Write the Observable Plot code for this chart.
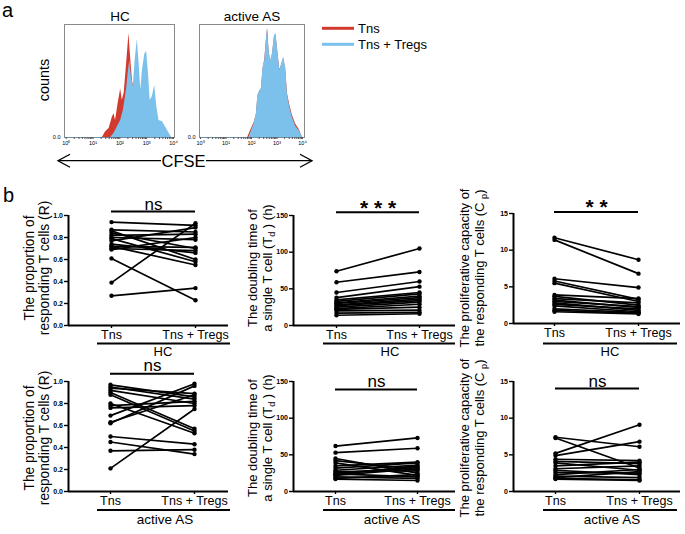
<!DOCTYPE html>
<html><head><meta charset="utf-8">
<script src="https://cdn.jsdelivr.net/npm/d3@7"></script>
<script src="https://cdn.jsdelivr.net/npm/@observablehq/plot@0.6"></script>
<style>
body{margin:0;background:#fff;}
#fig{position:relative;width:685px;height:534px;overflow:hidden;background:#fff;}
</style></head><body><div id="fig"></div>
<script>
// ---------------- data ----------------
const categories = ["Tns", "Tns + Tregs"];
const legendLabels = ["Tns", "Tns  + Tregs"];
const groups = ["HC", "active AS"];
const cfseMajor = [1, 10, 100, 1000, 10000];
const cfseMajorLabels = ["10⁰", "10¹", "10²", "10³", "10⁴"];

// histogram (log10 CFSE, relative counts)
const hcTnsLog    = [1.35,1.47,1.60,1.72,1.78,1.84,1.93,2.03,2.09,2.16,2.22,2.28,2.34,2.40,2.47,2.60,2.90,3.30,3.70];
const hcTnsCount  = [0,0.05,0.08,0.18,0.21,0.15,0.29,0.43,0.33,0.39,0.56,0.74,0.92,0.71,0.50,0.35,0.20,0.08,0];
const hcTregLog   = [1.66,1.78,1.90,2.03,2.13,2.19,2.26,2.32,2.37,2.43,2.50,2.57,2.65,2.72,2.78,2.84,2.93,3.00,3.07,3.13,3.21,3.30,3.38,3.46,3.59,3.71,3.84,3.93];
const hcTregCount = [0,0.035,0.09,0.15,0.24,0.33,0.45,0.59,0.68,0.54,0.45,0.68,0.87,0.65,0.42,0.59,0.74,0.76,0.56,0.33,0.36,0.46,0.27,0.15,0.14,0.09,0.035,0];
const asTnsLog    = [1.85,2.00,2.10,2.19,2.25,2.32,2.39,2.45,2.52,2.58,2.63,2.69,2.75,2.82,2.90,2.96,3.03,3.11,3.18,3.26,3.34,3.41,3.50,3.60,3.73,3.87,4.00];
const asTnsCount  = [0,0.08,0.13,0.20,0.36,0.41,0.43,0.60,0.69,0.85,0.97,0.76,0.67,0.73,0.89,0.91,0.76,0.60,0.64,0.70,0.61,0.39,0.29,0.20,0.12,0.07,0];
const asTregLog   = [1.90,2.00,2.10,2.19,2.25,2.32,2.39,2.45,2.52,2.58,2.63,2.69,2.75,2.82,2.90,2.96,3.03,3.11,3.18,3.26,3.34,3.41,3.50,3.60,3.73,3.87,4.00];
const asTregCount = [0,0.06,0.12,0.21,0.38,0.40,0.44,0.62,0.68,0.86,0.96,0.77,0.68,0.74,0.90,0.92,0.77,0.59,0.65,0.71,0.62,0.38,0.27,0.18,0.10,0.06,0];

// paired values: Tns vs Tns + Tregs
const rHcTns    = [0.94,0.87,0.86,0.84,0.82,0.80,0.79,0.77,0.74,0.72,0.72,0.70,0.69,0.61,0.39,0.27];
const rHcTregs  = [0.91,0.85,0.60,0.70,0.83,0.78,0.58,0.89,0.66,0.55,0.71,0.68,0.80,0.23,0.93,0.34];
const tdHcTns   = [74,59,45,38,35,33,31,30,28,27,25,23,22,20,17,14];
const tdHcTregs = [105,73,60,53,45,43,40,38,36,34,32,29,25,21,18,16];
const cpHcTns   = [11.7,11.4,6.1,5.8,5.5,3.9,3.7,3.4,3.2,3.0,2.8,2.6,2.4,2.0,1.8,1.6];
const cpHcTregs = [8.7,6.8,4.9,3.3,3.0,3.4,2.5,2.8,2.2,2.3,1.8,2.0,1.6,1.5,1.4,1.3];
const rAsTns    = [0.97,0.95,0.94,0.92,0.90,0.88,0.80,0.78,0.76,0.69,0.63,0.62,0.50,0.45,0.37,0.21];
const rAsTregs  = [0.86,0.84,0.89,0.80,0.57,0.55,0.53,0.82,0.78,0.98,0.88,0.96,0.43,0.34,0.38,0.75];
const tdAsTns   = [62,53,45,42,39,35,32,29,27,25,24,23,22,20,18,17];
const tdAsTregs = [73,59,25,30,22,40,39,36,28,33,20,35,31,18,23,15];
const cpAsTns   = [7.4,7.3,5.2,4.9,4.4,4.1,3.9,3.5,3.1,2.9,2.6,2.3,2.1,1.9,1.8,1.7];
const cpAsTregs = [6.1,3.2,9.1,6.8,4.2,3.8,2.9,4.0,3.5,2.3,2.5,3.0,1.9,2.7,1.6,1.5];

const rTicks = [0,0.2,0.4,0.6,0.8,1.0];
const tdTicks = [0,50,100,150];
const cpTicks = [0,5,10,15];
const sigHc = ["ns", "* * *", "* *"];
const sigAs = ["ns", "ns", "ns"];

// ---------------- style ----------------
const FONT = '"Liberation Sans", Arial, Helvetica, sans-serif';
const RED = "#d23a2e";
const BLUE = "#7cc1eb";
const fig = document.getElementById("fig");
function place(el, left, top) {
  el.style.position = "absolute";
  el.style.left = left + "px";
  el.style.top = top + "px";
  fig.appendChild(el);
}
const baseStyle = {fontFamily: FONT, background: "transparent", overflow: "visible", color: "black"};

// ---------------- panel a: histograms ----------------
const cfseTicks = [];
for (let k = 0; k < 4; k++) for (let m = 1; m < 10; m++) cfseTicks.push(m * 10 ** k);
cfseTicks.push(1e4);

function histPlot(o) {
  const tns = o.tnsLog.map((x, i) => ({x: 10 ** x, y: o.tnsCount[i]}));
  const treg = o.tregLog.map((x, i) => ({x: 10 ** x, y: o.tregCount[i]}));
  const p = Plot.plot({
    width: o.width, height: o.height,
    marginLeft: o.mL, marginRight: o.mR, marginTop: o.mT, marginBottom: o.mB,
    style: baseStyle,
    x: {type: "log", domain: [1, 1e4], range: o.xr},
    y: {domain: [0, 1]},
    marks: [
      Plot.frame({stroke: "#8a8a8a", strokeWidth: 1}),
      Plot.ruleY([0], {stroke: "#6f8fa8", strokeWidth: 1}),
      Plot.areaY(tns, {x: "x", y: "y", fill: RED, curve: "linear"}),
      Plot.areaY(treg, {x: "x", y: "y", fill: BLUE, curve: "linear"}),
      Plot.axisX({ticks: cfseTicks, tickSize: 2, tickPadding: 2, fontSize: 5.5, stroke: "#555",
        tickFormat: d => { const i = cfseMajor.indexOf(d); return i >= 0 ? cfseMajorLabels[i] : ""; }, label: null}),
      Plot.axisY({ticks: [0], tickSize: 0, tickPadding: 4, fontSize: 5.5, label: null})
    ]
  });
  place(p, o.left, o.top);
}
histPlot({left: 50, top: 10, width: 135, height: 150, mL: 14, mR: 11, mT: 14, mB: 23, xr: [15.7, 123],
  tnsLog: hcTnsLog, tnsCount: hcTnsCount, tregLog: hcTregLog, tregCount: hcTregCount});
histPlot({left: 185, top: 10, width: 130, height: 150, mL: 14, mR: 11, mT: 14, mB: 23, xr: [15, 117],
  tnsLog: asTnsLog, tnsCount: asTnsCount, tregLog: asTregLog, tregCount: asTregCount});

// ---------------- panel b: paired plots ----------------
function pairPlot(o) {
  const W = o.width - o.mL - o.mR;
  const step = o.tregsX - o.tnsX;
  const d0 = -(o.tnsX - o.left - o.mL) / step;
  const d1 = d0 + W / step;
  const rows = [];
  o.tns.forEach((v, i) => {
    rows.push({id: i, c: 0, v});
    rows.push({id: i, c: 1, v: o.tregs[i]});
  });
  const top = o.yDomain[1];
  const p = Plot.plot({
    width: o.width, height: o.height,
    marginLeft: o.mL, marginRight: o.mR, marginTop: o.mT, marginBottom: o.mB,
    style: baseStyle,
    x: {domain: [d0, d1]},
    y: {domain: o.yDomain},
    marks: [
      Plot.line(rows, {x: "c", y: "v", z: "id", stroke: "black", strokeWidth: 1.7}),
      Plot.dot(rows, {x: "c", y: "v", r: 2.2, fill: "black", stroke: "none"}),
      Plot.ruleX([d0], {stroke: "black", strokeWidth: 2}),
      Plot.ruleY([o.yDomain[0]], {stroke: "black", strokeWidth: 2}),
      Plot.axisY({ticks: o.yTicks, tickSize: 4, tickPadding: 1.5, fontSize: 7, fontWeight: "bold",
        strokeWidth: 1.4, tickFormat: o.yFormat, label: null}),
      Plot.axisX({ticks: [0, 1], tickSize: 3, tickPadding: 2, fontSize: 12.5, strokeWidth: 1.4,
        tickFormat: i => categories[i], label: null}),
      Plot.ruleY([{y: top, x1: 0, x2: 1}], {y: "y", x1: "x1", x2: "x2", dy: o.barDy, stroke: "black", strokeWidth: 2}),
      Plot.text([{x: 0.5, y: top}], {x: "x", y: "y", text: () => o.sig, dy: o.sigDy, fontSize: o.sigSize,
        fontWeight: o.sigBold ? "bold" : "normal"})
    ]
  });
  place(p, o.left, o.top);
}
const f1 = d => d.toFixed(1);
const f0 = d => String(d);
pairPlot({left: 0, top: 180, width: 230, height: 180, mL: 68, mR: 2, mT: 35, mB: 35, tnsX: 111, tregsX: 195,
  yDomain: [0, 1], yTicks: rTicks, yFormat: f1, tns: rHcTns, tregs: rHcTregs, sig: sigHc[0], barDy: -4, sigDy: -11, sigSize: 17});
pairPlot({left: 225, top: 180, width: 230, height: 180, mL: 68, mR: 0, mT: 35, mB: 35, tnsX: 336, tregsX: 419,
  yDomain: [0, 150], yTicks: tdTicks, yFormat: f0, tns: tdHcTns, tregs: tdHcTregs, sig: sigHc[1], barDy: -3.3, sigDy: -7.5, sigSize: 21, sigBold: true});
pairPlot({left: 455, top: 180, width: 230, height: 180, mL: 58, mR: 5, mT: 33, mB: 37, tnsX: 554, tregsX: 638,
  yDomain: [0, 15], yTicks: cpTicks, yFormat: f0, tns: cpHcTns, tregs: cpHcTregs, sig: sigHc[2], barDy: -1.6, sigDy: -6, sigSize: 21, sigBold: true});
pairPlot({left: 0, top: 355, width: 230, height: 179, mL: 68, mR: 2, mT: 26, mB: 43, tnsX: 110, tregsX: 194,
  yDomain: [0, 1], yTicks: rTicks, yFormat: f1, tns: rAsTns, tregs: rAsTregs, sig: sigAs[0], barDy: -7.7, sigDy: -16, sigSize: 17});
pairPlot({left: 225, top: 355, width: 230, height: 179, mL: 68, mR: 0, mT: 26, mB: 43, tnsX: 335, tregsX: 417,
  yDomain: [0, 150], yTicks: tdTicks, yFormat: f0, tns: tdAsTns, tregs: tdAsTregs, sig: sigAs[1], barDy: 8, sigDy: 0, sigSize: 17});
pairPlot({left: 455, top: 355, width: 230, height: 179, mL: 58, mR: 5, mT: 26, mB: 43, tnsX: 555, tregsX: 639,
  yDomain: [0, 15], yTicks: cpTicks, yFormat: f0, tns: cpAsTns, tregs: cpAsTregs, sig: sigAs[2], barDy: 7, sigDy: 0.5, sigSize: 17});

// ---------------- annotation overlay ----------------
const ov = d3.select(fig).append("svg")
  .attr("width", 685).attr("height", 534)
  .style("position", "absolute").style("left", "0px").style("top", "0px")
  .style("pointer-events", "none").style("font-family", FONT).style("overflow", "visible");

function txt(x, y, s, size, anchor = "start", extra = {}) {
  const t = ov.append("text").attr("x", x).attr("y", y).attr("font-size", size).attr("text-anchor", anchor).text(s);
  for (const k in extra) t.attr(k, extra[k]);
  return t;
}
txt(2, 17, "a", 20);
txt(3, 202, "b", 20);
txt(120, 21, groups[0], 13.5, "middle");
txt(252, 21, groups[1], 13.5, "middle");
ov.append("text").attr("transform", "translate(49,80) rotate(-90)").attr("text-anchor", "middle")
  .attr("font-size", 14.5).text("counts");

// CFSE double arrow
const ay = 160.7;
ov.append("line").attr("x1", 58).attr("x2", 161).attr("y1", ay).attr("y2", ay).attr("stroke", "black").attr("stroke-width", 1.3);
ov.append("line").attr("x1", 206).attr("x2", 312).attr("y1", ay).attr("y2", ay).attr("stroke", "black").attr("stroke-width", 1.3);
ov.append("path").attr("d", `M70,${ay - 6.5} L58,${ay} L70,${ay + 6.5}`).attr("fill", "none").attr("stroke", "black").attr("stroke-width", 1.3);
ov.append("path").attr("d", `M300,${ay - 6.5} L312,${ay} L300,${ay + 6.5}`).attr("fill", "none").attr("stroke", "black").attr("stroke-width", 1.3);
txt(183.5, 167, "CFSE", 16.5, "middle");

// legend
ov.append("line").attr("x1", 322).attr("x2", 354).attr("y1", 28.3).attr("y2", 28.3).attr("stroke", RED).attr("stroke-width", 3);
ov.append("line").attr("x1", 322).attr("x2", 354).attr("y1", 44.3).attr("y2", 44.3).attr("stroke", BLUE).attr("stroke-width", 3);
txt(358, 33, legendLabels[0], 13);
txt(358, 49, legendLabels[1], 13);

// y-axis titles (rotated, two lines)
function ylab(x1, x2, cy, line1, line2parts, size) {
  ov.append("text").attr("transform", `translate(${x1},${cy}) rotate(-90)`).attr("text-anchor", "middle")
    .attr("font-size", size).text(line1);
  const t = ov.append("text").attr("transform", `translate(${x2},${cy}) rotate(-90)`).attr("text-anchor", "middle")
    .attr("font-size", size);
  line2parts.forEach(pt => {
    const s = t.append("tspan").text(pt.t);
    if (pt.sub) s.attr("font-size", size * 0.7).attr("dy", 3);
    if (pt.after) s.attr("dy", -3);
  });
}
const rL2 = [{t: "responding T cells (R)"}];
const tdL2 = [{t: "a single T cell (T"}, {t: "d", sub: true}, {t: " ) (h)", after: true}];
const cpL2 = [{t: "the responding T cells (C "}, {t: "p", sub: true}, {t: ")", after: true}];
[[268, 0], [438, 1]].forEach(([cy]) => {
  ylab(34, 49, cy, "The proportion of", rL2, 13.8);
  ylab(257, 272, cy, "The doubling time of", tdL2, 13);
  ylab(469, 484, cy, "The proliferative capacity of", cpL2, 13);
});

// group underlines and labels
const spans = [[97, 230, 163], [323, 455, 390], [543, 677, 610]];
spans.forEach(([a, b, c]) => {
  ov.append("line").attr("x1", a).attr("x2", b).attr("y1", 343.5).attr("y2", 343.5).attr("stroke", "black").attr("stroke-width", 2);
  txt(c, 355.5, groups[0], 13, "middle");
  ov.append("line").attr("x1", a).attr("x2", b).attr("y1", 510).attr("y2", 510).attr("stroke", "black").attr("stroke-width", 2);
  txt(c + 2, 524, groups[1], 13.5, "middle");
});
</script></body></html>
